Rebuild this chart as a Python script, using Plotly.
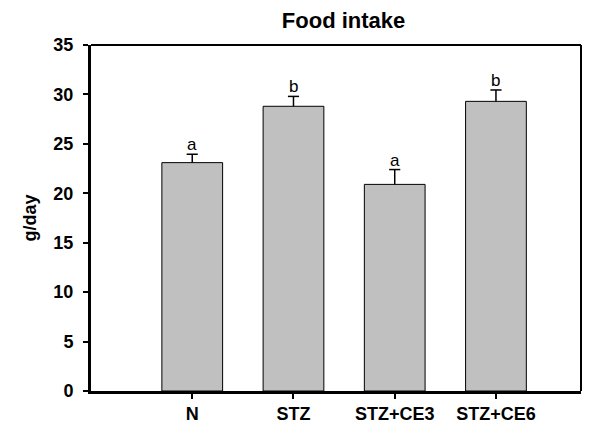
import plotly.graph_objects as go

# Daily food intake per group (mean and upper error)
groups = ["N", "STZ", "STZ+CE3", "STZ+CE6"]
intake = [23.1, 28.8, 20.9, 29.3]
intake_err = [0.85, 1.0, 1.5, 1.15]
sig_letters = ["a", "b", "a", "b"]
y_ticks = [0, 5, 10, 15, 20, 25, 30, 35]

FONT = "Liberation Sans, Arial, sans-serif"
CAP_HALF = 0.055  # half width of the error-bar cap, in category units

xs = list(range(len(groups)))

fig = go.Figure()
fig.add_trace(go.Bar(
    x=xs,
    y=intake,
    width=0.6,
    marker=dict(color="#c0c0c0", line=dict(color="#000000", width=1)),
    showlegend=False,
    hoverinfo="skip",
))

# One-sided (upward) error bars: stem from bar top plus a cap
ex, ey = [], []
for i, (v, e) in enumerate(zip(intake, intake_err)):
    ex += [i, i, None, i - CAP_HALF, i + CAP_HALF, None]
    ey += [v, v + e, None, v + e, v + e, None]
fig.add_trace(go.Scatter(
    x=ex, y=ey, mode="lines",
    line=dict(color="#000000", width=1.5),
    showlegend=False, hoverinfo="skip", cliponaxis=False,
))

# Significance letters above each error bar
for i, (v, e, s) in enumerate(zip(intake, intake_err, sig_letters)):
    fig.add_annotation(x=i, y=v + e, text=s, showarrow=False,
                       yanchor="bottom", yshift=-2,
                       font=dict(family=FONT, size=17, color="#000000"))

# Thin frame on top and right
fig.add_shape(type="line", xref="paper", yref="paper", x0=0, x1=1, y0=1, y1=1,
              line=dict(color="#000000", width=2))
fig.add_shape(type="line", xref="paper", yref="paper", x0=1, x1=1, y0=0, y1=1,
              line=dict(color="#000000", width=2))

fig.update_layout(
    width=597, height=425,
    margin=dict(l=91, r=16, t=45, b=34),
    plot_bgcolor="#ffffff", paper_bgcolor="#ffffff",
    title=dict(text="<b>Food intake</b>", x=0.5755, xanchor="center",
               y=0.953, yanchor="middle",
               font=dict(family=FONT, size=22, color="#000000")),
    font=dict(family=FONT, color="#000000"),
    xaxis=dict(
        range=[-1, 3.84], tickmode="array",
        tickvals=xs,
        ticktext=[f"<b>{g}</b>" for g in groups],
        showline=True, linecolor="#000000", linewidth=3,
        ticks="outside", ticklen=5, tickwidth=1.5, tickcolor="#000000",
        ticklabelstandoff=-1, automargin=False,
        tickfont=dict(family=FONT, size=18, color="#000000"),
        showgrid=False, zeroline=False,
    ),
    yaxis=dict(
        range=[0, 35], tickmode="array", tickvals=y_ticks,
        ticktext=[f"<b>{t}</b>" for t in y_ticks],
        showline=True, linecolor="#000000", linewidth=3,
        ticks="outside", ticklen=5, tickwidth=1.5, tickcolor="#000000",
        ticklabelstandoff=6, automargin=False,
        tickfont=dict(family=FONT, size=18, color="#000000"),
        title=dict(text="<b>g/day</b>", standoff=13,
                   font=dict(family=FONT, size=18, color="#000000")),
        showgrid=False, zeroline=False,
    ),
)

fig.write_html("out.html")
